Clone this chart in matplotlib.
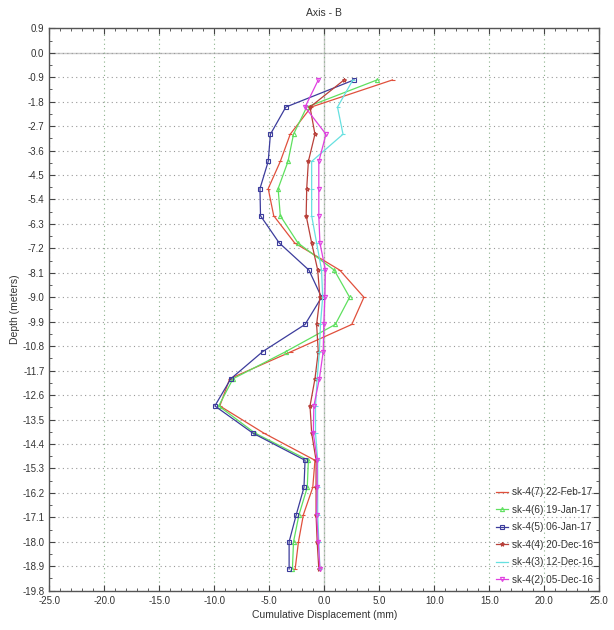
"""
Inclinometer profile, Axis - B: cumulative displacement vs depth for six readings.
"""
import matplotlib
matplotlib.use('Agg')
import matplotlib.pyplot as plt
import matplotlib.ticker as mticker
import numpy as np

plt.rcParams['font.family'] = ['Liberation Sans', 'DejaVu Sans']

# ── Data ───────────────────────────────────────────────────────────────────────
depths = [-1, -2, -3, -4, -5, -6, -7, -8, -9, -10,
          -11, -12, -13, -14, -15, -16, -17, -18, -19]

sk4_7 = [6.2, -1.2, -3.1, -4.0, -5.1, -4.6, -2.7, 1.4, 3.6, 2.5,
         -3.0, -8.6, -9.5, -5.5, -0.85, -1.05, -1.9, -2.35, -2.65]
sk4_6 = [4.8, -1.6, -2.8, -3.3, -4.2, -4.0, -2.4, 0.9, 2.3, 1.0,
         -3.5, -8.3, -9.6, -6.3, -1.45, -1.55, -2.3, -2.8, -2.9]
sk4_5 = [2.7, -3.5, -4.9, -5.1, -5.85, -5.8, -4.1, -1.4, -0.25, -1.75,
         -5.6, -8.5, -9.95, -6.5, -1.75, -1.85, -2.55, -3.2, -3.2]
sk4_4 = [1.8, -1.3, -0.85, -1.45, -1.6, -1.65, -1.15, -0.6, -0.4, -0.7,
         -0.55, -0.85, -1.3, -1.15, -0.75, -0.75, -0.75, -0.65, -0.5]
sk4_3 = [2.6, 1.2, 1.7, -1.15, -1.15, -1.15, -0.7, -0.25, -0.15, -0.35,
         -0.45, -0.65, -0.8, -0.8, -0.6, -0.6, -0.6, -0.5, -0.4]
sk4_2 = [-0.55, -1.75, 0.15, -0.5, -0.5, -0.5, -0.4, 0.1, 0.05, -0.05,
         -0.1, -0.45, -0.95, -1.0, -0.65, -0.65, -0.7, -0.55, -0.4]

labels = ["sk-4(7) 22-Feb-17", "sk-4(6) 19-Jan-17", "sk-4(5) 06-Jan-17",
          "sk-4(4) 20-Dec-16", "sk-4(3) 12-Dec-16", "sk-4(2) 05-Dec-16"]
series = [sk4_7, sk4_6, sk4_5, sk4_4, sk4_3, sk4_2]
colors = ['#e0503c', '#5fe05f', '#3c3c9c', '#b8403a', '#66e0e0', '#e040e0']
markers = ['_', '^', 's', '*', '_', 'v']

x_ticks = [-25.0, -20.0, -15.0, -10.0, -5.0, 0.0, 5.0, 10.0, 15.0, 20.0, 25.0]
y_ticks = [0.9, 0.0, -0.9, -1.8, -2.7, -3.6, -4.5, -5.4, -6.3, -7.2, -8.1, -9.0,
           -9.9, -10.8, -11.7, -12.6, -13.5, -14.4, -15.3, -16.2, -17.1, -18.0,
           -18.9, -19.8]

# ── Plot ───────────────────────────────────────────────────────────────────────
fig = plt.figure(figsize=(6.14, 6.30), dpi=100)
ax = fig.add_axes([0.0803, 0.0624, 0.8958, 0.8927])

for vals, lab, c, m in zip(series, labels, colors, markers):
    ax.plot(vals, depths, color=c, linewidth=0.9, marker=m, markersize=3,
            markerfacecolor='none', markeredgecolor=c, markeredgewidth=0.8,
            label=lab, zorder=3)

# zero reference lines
ax.axvline(0, color='#c8c8c8', linewidth=1.0, zorder=1)
ax.axhline(0, color='#c8c8c8', linewidth=1.0, zorder=1)

ax.set_xlim(-25, 25)
ax.set_ylim(-19.8, 0.9)
ax.set_xticks(x_ticks)
ax.set_yticks(y_ticks)
ax.xaxis.set_minor_locator(mticker.MultipleLocator(1.0))
ax.yaxis.set_minor_locator(mticker.MultipleLocator(0.45))
ax.xaxis.set_major_formatter(mticker.FuncFormatter(lambda v, _: f"{v + 0.0:.1f}"))
ax.yaxis.set_major_formatter(mticker.FuncFormatter(lambda v, _: f"{round(v, 1) + 0.0:.1f}"))

ax.tick_params(which='both', top=True, right=True, direction='in',
               labelsize=7, colors='#444444', labelcolor='#333333')
ax.tick_params(which='major', length=4, width=0.8)
ax.tick_params(which='minor', length=2.5, width=0.6)
ax.tick_params(axis='x', which='both', pad=4)

ax.grid(axis='x', which='major', color='#8ab08a', linestyle=(0, (1, 3)), linewidth=0.8, zorder=0)
ax.grid(axis='y', which='major', color='#9a9a9a', linestyle=(0, (1, 3)), linewidth=0.8, zorder=0)

for s in ax.spines.values():
    s.set_color('#555555')
    s.set_linewidth(1.0)

ax.set_title("Axis - B", fontsize=7.5, color='#333333', pad=9)
ax.set_xlabel("Cumulative Displacement (mm)", fontsize=7.5, color='#333333', labelpad=3)
ax.set_ylabel("Depth (meters)", fontsize=7.5, color='#333333', labelpad=2)

ax.legend(loc='lower right', fontsize=7.2, frameon=False, handlelength=1.2,
          handletextpad=0.4, labelspacing=0.75, borderaxespad=0.2,
          labelcolor='#333333')

fig.savefig("out.png", dpi=100)
plt.close(fig)
